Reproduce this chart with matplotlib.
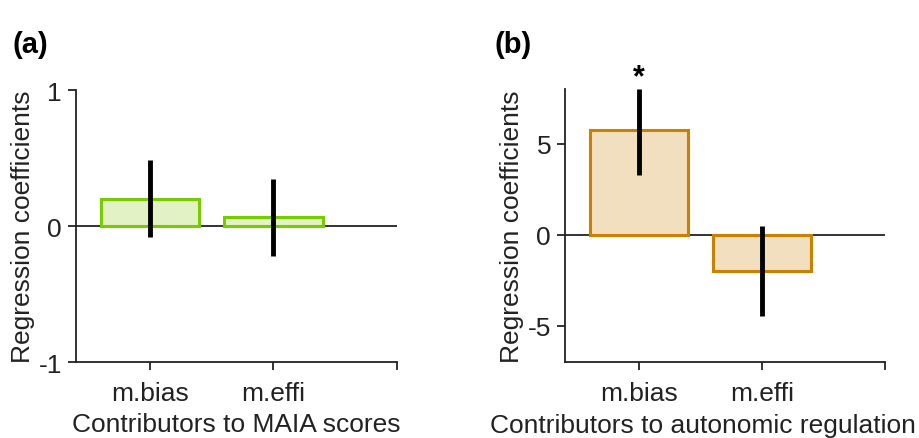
import matplotlib
matplotlib.use('Agg')
import matplotlib.pyplot as plt

plt.rcParams['font.family'] = ['Liberation Sans', 'DejaVu Sans']

labels = ['m.bias', 'm.effi']

# panel (a): MAIA scores
maia_coef = [0.20, 0.065]
maia_lo = [-0.08, -0.22]
maia_hi = [0.485, 0.345]

# panel (b): autonomic regulation
auto_coef = [5.77, -1.98]
auto_lo = [3.3, -4.45]
auto_hi = [8.0, 0.5]

fig = plt.figure(figsize=(9.19, 4.39), dpi=100)
ax1 = fig.add_axes([0.0827, 0.173, 0.349, 0.6196])
ax2 = fig.add_axes([0.6148, 0.173, 0.348, 0.622])

FS = 19


def panel(ax, coef, lo, hi, edge, face, ylim, yticks, yticklabels, xlabel):
    x = [1, 2]
    ax.axhline(0, color='#222222', lw=1.3, zorder=1)
    ax.bar(x, coef, width=0.8, color=face, edgecolor=edge, linewidth=2.2, zorder=2)
    for xi, l, h in zip(x, lo, hi):
        ax.plot([xi, xi], [l, h], color='black', lw=3.5, solid_capstyle='butt', zorder=3)
    ax.set_xlim(0.4, 3)
    ax.set_ylim(*ylim)
    ax.set_xticks([1, 2, 3])
    ax.set_xticklabels(labels + [''])
    ax.set_yticks(yticks)
    ax.set_yticklabels(yticklabels)
    for s in ['top', 'right']:
        ax.spines[s].set_visible(False)
    for s in ['left', 'bottom']:
        ax.spines[s].set_linewidth(1.3)
        ax.spines[s].set_color('#222222')
    ax.tick_params(direction='out', length=6, width=1.3, labelsize=FS,
                   colors='#222222', pad=4)
    ax.tick_params(axis='x', pad=8)
    ax.set_ylabel('Regression coefficients', fontsize=FS, color='#222222', labelpad=3)
    ax.set_xlabel(xlabel, fontsize=FS, color='#222222', labelpad=5)


panel(ax1, maia_coef, maia_lo, maia_hi, '#77cc00', '#e2f2c4', (-1, 1),
      [-1, 0, 1], ['-1', '0', '1'], 'Contributors to MAIA scores')
panel(ax2, auto_coef, auto_lo, auto_hi, '#cc8000', '#f2dfbf', (-7, 8),
      [-5, 0, 5], ['-5', '0', '5'], 'Contributors to autonomic regulation')
ax2.xaxis.set_label_coords(0.43, -0.185)
ax2.text(1, 8.2, '*', fontsize=22, fontweight='bold', ha='center', va='baseline')

fig.text(12 / 919, 1 - 45 / 439, '(a)', fontsize=21, fontweight='bold', ha='left', va='center')
fig.text(495 / 919, 1 - 45 / 439, '(b)', fontsize=21, fontweight='bold', ha='left', va='center')

fig.savefig('out.png', dpi=100)
